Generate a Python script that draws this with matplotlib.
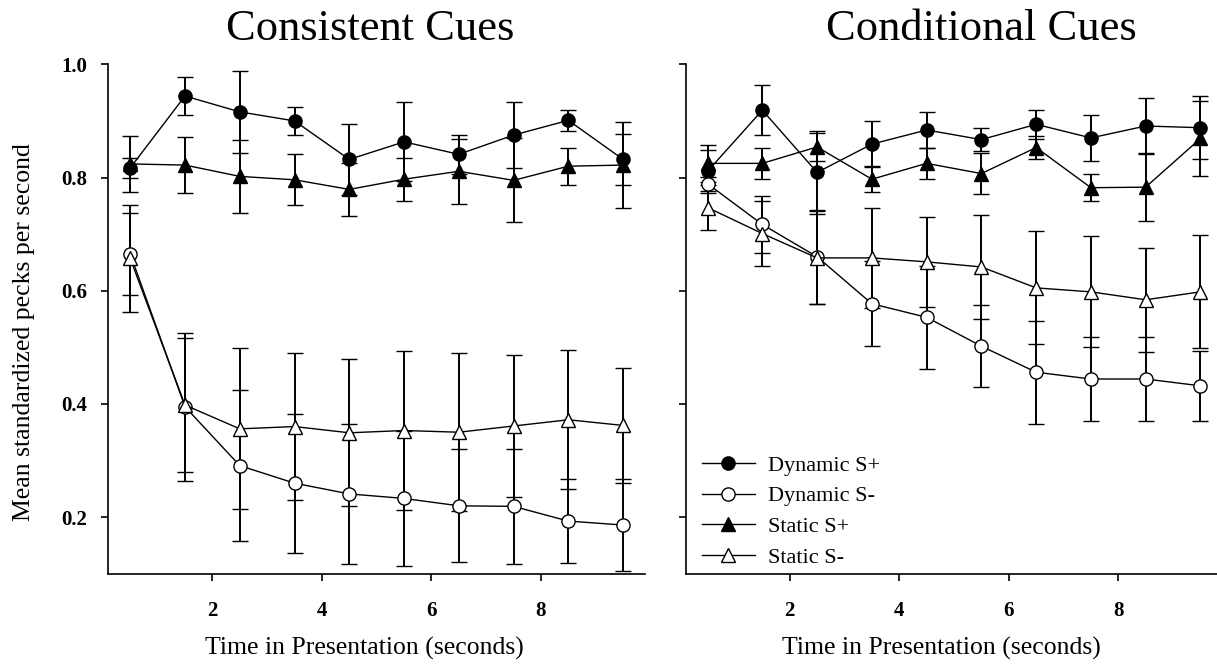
import matplotlib.pyplot as plt

plt.rcParams["font.family"] = ["Liberation Serif", "DejaVu Serif"]

# Time bins (seconds into presentation)
time = [0.5, 1.5, 2.5, 3.5, 4.5, 5.5, 6.5, 7.5, 8.5, 9.5]

# Consistent cues: means and error bar half-widths
cons_dyn_plus = [0.817, 0.944, 0.916, 0.900, 0.832, 0.863, 0.841, 0.875, 0.901, 0.832]
cons_dyn_plus_err = [0.017, 0.033, 0.073, 0.025, 0.062, 0.070, 0.034, 0.058, 0.018, 0.045]
cons_dyn_minus = [0.665, 0.395, 0.291, 0.260, 0.241, 0.233, 0.220, 0.219, 0.193, 0.186]
cons_dyn_minus_err = [0.072, 0.131, 0.134, 0.123, 0.124, 0.120, 0.100, 0.101, 0.074, 0.081]
cons_sta_plus = [0.824, 0.822, 0.802, 0.796, 0.779, 0.797, 0.811, 0.795, 0.820, 0.822]
cons_sta_plus_err = [0.050, 0.050, 0.064, 0.045, 0.047, 0.038, 0.057, 0.074, 0.033, 0.076]
cons_sta_minus = [0.657, 0.398, 0.356, 0.360, 0.349, 0.353, 0.350, 0.361, 0.372, 0.362]
cons_sta_minus_err = [0.094, 0.119, 0.142, 0.130, 0.130, 0.141, 0.140, 0.125, 0.123, 0.101]

# Conditional cues
cond_dyn_plus = [0.811, 0.919, 0.809, 0.859, 0.884, 0.867, 0.894, 0.870, 0.891, 0.888]
cond_dyn_plus_err = [0.038, 0.044, 0.073, 0.041, 0.032, 0.021, 0.026, 0.040, 0.049, 0.056]
cond_dyn_minus = [0.789, 0.717, 0.660, 0.577, 0.553, 0.502, 0.456, 0.444, 0.444, 0.432]
cond_dyn_minus_err = [0.012, 0.050, 0.083, 0.075, 0.091, 0.072, 0.091, 0.074, 0.075, 0.062]
cond_sta_plus = [0.825, 0.825, 0.854, 0.797, 0.825, 0.807, 0.853, 0.782, 0.783, 0.869]
cond_sta_plus_err = [0.033, 0.027, 0.025, 0.023, 0.027, 0.036, 0.020, 0.024, 0.060, 0.067]
cond_sta_minus = [0.747, 0.701, 0.658, 0.658, 0.651, 0.642, 0.605, 0.598, 0.584, 0.598]
cond_sta_minus_err = [0.040, 0.058, 0.082, 0.089, 0.079, 0.092, 0.100, 0.098, 0.092, 0.100]

titles = ["Consistent Cues", "Conditional Cues"]
labels = ["Dynamic S+", "Dynamic S-", "Static S+", "Static S-"]

panels = [
    [(cons_dyn_plus, cons_dyn_plus_err), (cons_dyn_minus, cons_dyn_minus_err),
     (cons_sta_plus, cons_sta_plus_err), (cons_sta_minus, cons_sta_minus_err)],
    [(cond_dyn_plus, cond_dyn_plus_err), (cond_dyn_minus, cond_dyn_minus_err),
     (cond_sta_plus, cond_sta_plus_err), (cond_sta_minus, cond_sta_minus_err)],
]
markers = ["o", "o", "^", "^"]
faces = ["black", "white", "black", "white"]

fig = plt.figure(figsize=(12.17, 6.7), dpi=100)
ax1 = fig.add_axes([0.0890, 0.1437, 0.4410, 0.7603])
ax2 = fig.add_axes([0.5634, 0.1437, 0.4410, 0.7603])

for ax, series in zip([ax1, ax2], panels):
    for (vals, errs), m, fc, lab in zip(series, markers, faces, labels):
        ax.errorbar(time, vals, yerr=errs, fmt=m, linestyle="-", color="black",
                    mfc=fc, mec="black", ms=9.5, mew=1.0, lw=1.0,
                    elinewidth=1.4, capsize=6, capthick=1.4, label=lab)
    ax.set_xlim(0.1, 9.9)
    ax.set_ylim(0.1, 1.0)
    ax.set_xticks([2, 4, 6, 8])
    ax.set_yticks([0.2, 0.4, 0.6, 0.8, 1.0])
    ax.spines["top"].set_visible(False)
    ax.spines["right"].set_visible(False)
    ax.spines["left"].set_linewidth(1.2)
    ax.spines["bottom"].set_linewidth(1.2)
    ax.tick_params(axis="both", direction="out", length=5, width=1.2)
    ax.tick_params(axis="x", pad=15)
    ax.tick_params(axis="y", pad=10)
    for t in ax.get_xticklabels() + ax.get_yticklabels():
        t.set_fontsize(15)
        t.set_fontweight("bold")

ax1.yaxis.set_major_formatter(plt.FormatStrFormatter("%.1f"))
ax2.set_yticklabels([])

# Titles and labels
fig.text(370 / 1217, 1 - 40 / 670, titles[0], fontsize=32, ha="center", va="baseline")
fig.text(981 / 1217, 1 - 40 / 670, titles[1], fontsize=32, ha="center", va="baseline")
fig.text(364 / 1217, 1 - 655 / 670, "Time in Presentation (seconds)", fontsize=18.5,
         ha="center", va="baseline")
fig.text(941 / 1217, 1 - 655 / 670, "Time in Presentation (seconds)", fontsize=18.5,
         ha="center", va="baseline")
fig.text(24 / 1217, 1 - 332 / 670, "Mean standardized pecks per second", fontsize=18.5,
         rotation=90, ha="center", va="center")

handles, labs = ax2.get_legend_handles_labels()
handles = [h[0] for h in handles]
ax2.legend(handles, labs, loc="lower left", bbox_to_anchor=(0.03, 0.012),
           frameon=False, fontsize=16, handlelength=2.4, handletextpad=0.6,
           labelspacing=0.45, borderaxespad=0, borderpad=0)

fig.savefig("out.png", dpi=100)
